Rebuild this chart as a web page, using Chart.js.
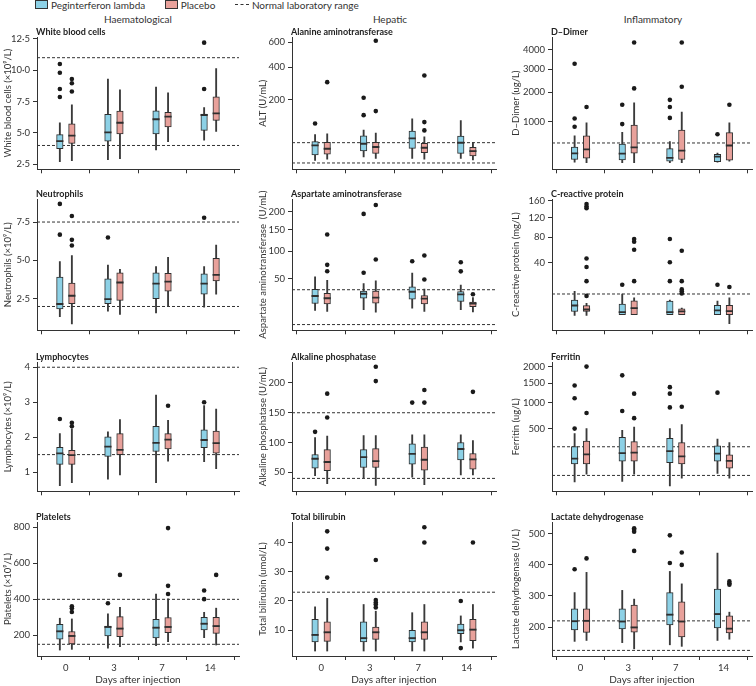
<!DOCTYPE html>
<html>
<head>
<meta charset="utf-8">
<script src="https://cdn.jsdelivr.net/npm/chart.js@4.4.1/dist/chart.umd.min.js"></script>
<style>
body { margin: 0; width: 756px; height: 686px; position: relative; background: #fff; font-family: Lato, sans-serif; color: #222; overflow: hidden; }
canvas { position: absolute; }
.ttl { position: absolute; font-weight: bold; font-size: 9px; line-height: 12px; white-space: nowrap; color: #222; }
.hdr { position: absolute; top: 13px; font-size: 10px; line-height: 12px; transform: translateX(-50%); color: #333; }
.leg { position: absolute; top: 0px; left: 35px; font-size: 10px; line-height: 10px; white-space: nowrap; color: #333; }
.leg span { display: inline-block; vertical-align: top; }
.sw { width: 11px; height: 7px; border: 1px solid #333; margin-right: 3px; }
.dash { width: 14px; border-top: 1.2px dashed #333; margin: 4px 3px 0 0; }
</style>
</head>
<body>
<div class="leg">
  <span class="sw" style="background:#8dd1e6"></span><span>Peginterferon lambda</span>
  <span class="sw" style="background:#e8a19b;margin-left:17px"></span><span>Placebo</span>
  <span class="dash" style="margin-left:17px"></span><span>Normal laboratory range</span>
</div>
<div class="hdr" style="left:138px">Haematological</div>
<div class="hdr" style="left:390px">Hepatic</div>
<div class="hdr" style="left:653px">Inflammatory</div>

<script>
var days = ['0', '3', '7', '14'];

// each row: [min, q1, median, q3, max] for days 0, 3, 7, 14
var wbcPeg = [[2.7, 3.75, 4.3, 4.87, 5.8], [2.87, 4.35, 5.0, 6.48, 9.3], [3.65, 4.92, 6.04, 6.77, 8.65], [4.43, 5.21, 6.38, 6.51, 7.03]];
var wbcPla = [[2.79, 4.17, 4.74, 5.73, 7.25], [2.95, 4.92, 5.76, 6.74, 8.44], [4.3, 5.47, 6.25, 6.64, 8.2], [5.13, 6.0, 6.51, 7.87, 10.13]];
var wbcPegOut = [[10.5, 9.8, 8.5, 7.87], [], [], [12.2, 8.5]];
var wbcPlaOut = [[9.3, 8.96, 8.3], [], [], []];
var wbcRange = [4, 11];
var wbcTicks = [2.5, 5, 7.5, 10, 12.5];

var neuPeg = [[1.33, 1.84, 2.12, 3.91, 4.92], [1.69, 2.18, 2.44, 3.8, 4.7], [1.58, 2.51, 3.45, 4.2, 4.6], [1.95, 2.81, 3.45, 4.12, 4.6]];
var neuPla = [[0.87, 2.18, 2.66, 3.52, 5.31], [1.48, 2.4, 3.52, 4.2, 4.42], [2.02, 3.0, 3.58, 4.16, 5.2], [2.81, 3.67, 4.02, 5.13, 6.0]];
var neuPegOut = [[8.68, 6.68], [6.49], [], [7.78]];
var neuPlaOut = [[7.89, 6.34, 5.97], [], [], []];
var neuRange = [2, 7.5];
var neuTicks = [2.5, 5, 7.5];

var lymPeg = [[0.61, 1.22, 1.52, 1.71, 2.1], [0.8, 1.45, 1.71, 2.01, 2.15], [0.7, 1.59, 1.82, 2.31, 3.2], [1.3, 1.7, 1.9, 2.21, 2.9]];
var lymPla = [[0.7, 1.22, 1.47, 1.62, 2.24], [0.92, 1.5, 1.62, 2.1, 2.5], [1.31, 1.66, 1.91, 2.1, 2.48], [1.1, 1.54, 1.81, 2.17, 2.8]];
var lymPegOut = [[2.52], [], [], [3.0]];
var lymPlaOut = [[2.41, 2.31], [], [2.9], []];
var lymRange = [1.5, 4];
var lymTicks = [1, 2, 3, 4];

var pltPeg = [[118, 178, 219, 261, 295], [128, 196, 243, 252, 319], [143, 185, 239, 289, 429], [187, 230, 261, 300, 328]];
var pltPla = [[122, 152, 193, 221, 291], [137, 193, 234, 304, 356], [165, 215, 243, 299, 403], [146, 211, 248, 300, 351]];
var pltPegOut = [[], [378], [], [449, 401]];
var pltPlaOut = [[362, 350, 330], [536], [796, 475, 430], [536]];
var pltRange = [150, 400];
var pltTicks = [200, 400, 600, 800];

var altPeg = [[9.8, 16.8, 32.7, 42.3, 61], [13.9, 23.2, 36.2, 57.5, 74], [12.2, 28, 48.8, 71, 113.6], [12.2, 19.3, 38.5, 56.6, 107]];
var altPla = [[11, 17.8, 26.2, 40.7, 63], [12.2, 19.3, 29.4, 40.7, 65], [11, 20.4, 28, 38.5, 54.8], [10.2, 15.3, 22, 30, 40.7]];
var altPegOut = [[96], [209, 128], [], []];
var altPlaOut = [[299], [615, 145], [342, 101, 73], []];
var altRange = [7, 40];
var altTicks = [200, 400, 600];

var astPeg = [[14, 19.9, 26.9, 35.4, 52.8], [14.5, 25.2, 29.5, 33.4, 43.2], [15.8, 24.1, 31.8, 38.8, 59], [14.5, 21.8, 28.8, 32.6, 41]];
var astPla = [[13.2, 19.6, 24.5, 30.6, 47.9], [12.5, 20.2, 25.2, 33.4, 46.9], [13.2, 19.6, 24.1, 28, 35.8], [12.7, 17, 19.3, 21.2, 26]];
var astPegOut = [[], [194, 59.5], [79.7], [77.9, 61.7]];
var astPlaOut = [[138, 73, 62], [221, 83], [91, 49], [29.5]];
var astRange = [5, 35];
var astTicks = [50, 100, 150, 200];

var alpPeg = [[44.6, 57.1, 71.9, 80, 108.4], [40.8, 58.2, 74.6, 88.2, 111.7], [41.9, 63.7, 80, 98, 112.8], [45.7, 70.8, 88.2, 100.2, 112.8]];
var alpPla = [[31, 52.8, 66.4, 88.2, 111], [28.2, 58.2, 68, 89.8, 111.7], [29.3, 53.9, 70.2, 92.6, 112.8], [45.7, 55.5, 70.8, 81.7, 103.5]];
var alpPegOut = [[118], [], [167], []];
var alpPlaOut = [[182, 142], [227, 203], [188, 167], [185]];
var alpRange = [40, 150];
var alpTicks = [50, 100, 150, 200];

var bilPeg = [[2.9, 6, 8.2, 13.7, 18], [2.9, 6, 7.1, 12.9, 18.8], [2.9, 6, 7.1, 10, 16], [6, 8.8, 9.8, 12.1, 14.9]];
var bilPla = [[2.9, 6.2, 9.1, 12.9, 20.9], [2.9, 6.9, 9.1, 11.1, 16.5], [2.9, 6.9, 9.1, 12.9, 18.8], [3.9, 6.4, 10, 13.7, 18.8]];
var bilPegOut = [[], [], [], [20, 3.9]];
var bilPlaOut = [[43.8, 37.9, 28], [34, 20.3, 19.5, 18.8, 17.8], [45.2, 40], [40]];
var bilRange = [23];
var bilTicks = [10, 20, 30, 40];

var ddPeg = [[195, 228, 308, 423, 648], [187, 224, 303, 478, 732], [187, 207, 241, 394, 530], [195, 199, 260, 303, 323]];
var ddPla = [[187, 246, 372, 648, 975], [187, 318, 406, 913, 1600], [187, 228, 350, 787, 1294], [207, 220, 441, 724, 975]];
var ddPegOut = [[3263, 1095, 870], [1532, 939], [1705, 1454, 1114], [686]];
var ddPlaOut = [[1454], [4418, 2146], [4418, 2213], [1532]];
var ddRange = [500];
var ddTicks = [1000, 2000, 3000, 4000];

var crpPeg = [[0.97, 1.9, 4.2, 6.5, 11.8], [1.1, 1.1, 1.9, 4.6, 9.9], [1.1, 1.1, 1.9, 6, 6.5], [1.1, 1.1, 2.4, 4.05, 6]];
var crpPla = [[0.97, 1.9, 2.7, 3.9, 4.9], [1.1, 1.1, 3.2, 6.1, 7.7], [1.1, 1.1, 2.1, 2.7, 3.0], [0.02, 1.1, 2.2, 4.05, 7.7]];
var crpPegOut = [[], [16.8], [77, 41, 20], [16.8]];
var crpPlaOut = [[152, 146, 142, 46, 35, 20, 8.8], [77, 72, 59, 20], [57.4, 20, 13.2, 11.8, 10.3], [15]];
var crpRange = [10];
var crpTicks = [40, 80, 120, 160];

var ferPeg = [[10, 93, 138, 252, 424], [11, 112, 189, 368, 474], [3, 102, 209, 354, 500], [39, 112, 183, 260, 345]];
var ferPla = [[35, 93, 177, 320, 500], [35, 112, 193, 311, 526], [20, 93, 158, 299, 565], [20, 66, 120, 167, 299]];
var ferPegOut = [[1435, 1108, 500], [1725, 824], [1391, 1221, 900], [1246]];
var ferPlaOut = [[1998, 784], [1221, 682], [914], []];
var ferRange = [30, 250];
var ferTicks = [500, 1000, 1500, 2000];

var ldhPeg = [[154, 191, 217, 259, 311], [150, 194, 216, 259, 318], [143, 207, 238, 311, 379], [157, 197, 240, 322, 438]];
var ldhPla = [[157, 183, 218, 259, 376], [130, 184, 197, 271, 290], [138, 168, 216, 281, 339], [161, 181, 193, 236, 248]];
var ldhPegOut = [[386], [], [495, 406], []];
var ldhPlaOut = [[421], [518, 513, 507, 445], [440, 400], [347, 341, 336]];
var ldhRange = [125, 220];
var ldhTicks = [200, 300, 400, 500];

var pegColor = '#8dd1e6';
var plaColor = '#e8a19b';
var ink = '#2e2e2e';

// column / row geometry of the plot areas
var cols = [
  {left: 0, lw: 37, plot: 203, rp: 3},
  {left: 255, lw: 37, plot: 205, rp: 3},
  {left: 508, lw: 44, plot: 203, rp: 1}
];
var rows = [
  {top: 37, bottom: 172},
  {top: 199, bottom: 333},
  {top: 362, bottom: 494},
  {top: 522, bottom: 656}
];

var panels = [
  {row: 0, col: 0, title: 'White blood cells', ytitle: 'White blood cells (×10⁹/L)', peg: wbcPeg, pla: wbcPla, pegOut: wbcPegOut, plaOut: wbcPlaOut, range: wbcRange, ticks: wbcTicks, min: 2.1, max: 12.65, dec: true},
  {row: 1, col: 0, title: 'Neutrophils', ytitle: 'Neutrophils (×10⁹/L)', peg: neuPeg, pla: neuPla, pegOut: neuPegOut, plaOut: neuPlaOut, range: neuRange, ticks: neuTicks, min: 0.45, max: 9.0, dec: true},
  {row: 2, col: 0, title: 'Lymphocytes', ytitle: 'Lymphocytes (×10⁹/L)', peg: lymPeg, pla: lymPla, pegOut: lymPegOut, plaOut: lymPlaOut, range: lymRange, ticks: lymTicks, min: 0.45, max: 4.15},
  {row: 3, col: 0, title: 'Platelets', ytitle: 'Platelets (×10⁹/L)', peg: pltPeg, pla: pltPla, pegOut: pltPegOut, plaOut: pltPlaOut, range: pltRange, ticks: pltTicks, min: 85, max: 830},
  {row: 0, col: 1, title: 'Alanine aminotransferase', ytitle: 'ALT (U/mL)', peg: altPeg, pla: altPla, pegOut: altPegOut, plaOut: altPlaOut, range: altRange, ticks: altTicks, min: 1.5, max: 25.47, sqrt: true},
  {row: 1, col: 1, title: 'Aspartate aminotransferase', ytitle: 'Aspartate aminotransferase  (U/mL)', peg: astPeg, pla: astPla, pegOut: astPegOut, plaOut: astPlaOut, range: astRange, ticks: astTicks, min: 1.63, max: 15.5, sqrt: true},
  {row: 2, col: 1, title: 'Alkaline phosphatase', ytitle: 'Alkaline phosphatase (U/mL)', peg: alpPeg, pla: alpPla, pegOut: alpPegOut, plaOut: alpPlaOut, range: alpRange, ticks: alpTicks, min: 18.4, max: 235},
  {row: 3, col: 1, title: 'Total bilirubin', ytitle: 'Total bilirubin (umol/L)', peg: bilPeg, pla: bilPla, pegOut: bilPegOut, plaOut: bilPlaOut, range: bilRange, ticks: bilTicks, min: 1.2, max: 47},
  {row: 0, col: 2, title: 'D–Dimer', ytitle: 'D–Dimer (ug/L)', peg: ddPeg, pla: ddPla, pegOut: ddPegOut, plaOut: ddPlaOut, range: ddRange, ticks: ddTicks, min: 10.8, max: 68.9, sqrt: true},
  {row: 1, col: 2, title: 'C-reactive protein', ytitle: 'C-reactive protein (mg/L)', peg: crpPeg, pla: crpPla, pegOut: crpPegOut, plaOut: crpPlaOut, range: crpRange, ticks: crpTicks, min: -0.54, max: 12.85, sqrt: true},
  {row: 2, col: 2, title: 'Ferritin', ytitle: 'Ferritin (ug/L)', peg: ferPeg, pla: ferPla, pegOut: ferPegOut, plaOut: ferPlaOut, range: ferRange, ticks: ferTicks, min: -0.24, max: 46.35, sqrt: true},
  {row: 3, col: 2, title: 'Lactate dehydrogenase', ytitle: 'Lactate dehydrogenase (U/L)', peg: ldhPeg, pla: ldhPla, pegOut: ldhPegOut, plaOut: ldhPlaOut, range: ldhRange, ticks: ldhTicks, min: 107, max: 538}
];

function boxSeries(stats, out, dx, fill, f) {
  var whisk = [], box = [], med = [], pts = [];
  stats.forEach(function(s, i) {
    whisk.push({x: i + dx, y: [f(s[0]), f(s[4])]});
    box.push({x: i + dx, y: [f(s[1]), f(s[3])]});
    med.push({x: i + dx, y: [f(s[2]), f(s[2])]});
    out[i].forEach(function(v) { pts.push({x: i + dx, y: f(v)}); });
  });
  return [
    {type: 'scatter', data: pts, pointRadius: 2.3, pointBackgroundColor: '#1a1a1a', pointBorderWidth: 0, order: 0},
    {type: 'bar', data: med, backgroundColor: ink, barThickness: 6.5, minBarLength: 1.2, grouped: false, order: 1},
    {type: 'bar', data: box, backgroundColor: fill, borderColor: ink, borderWidth: 1, borderSkipped: false, barThickness: 6.5, grouped: false, order: 2},
    {type: 'bar', data: whisk, backgroundColor: '#3a3a3a', barThickness: 1.2, grouped: false, order: 3}
  ];
}

var tickFont = {family: 'Lato', size: 9.5};

panels.forEach(function(p) {
  var c = cols[p.col], r = rows[p.row];
  var last = p.row === 3;
  var bottomH = last ? 30 : 6;
  var w = c.lw + c.plot + c.rp;
  var h = 12 + (r.bottom - r.top) + bottomH;
  var f = p.sqrt ? Math.sqrt : function(v) { return v; };

  var cv = document.createElement('canvas');
  cv.width = w; cv.height = h;
  cv.style.left = c.left + 'px';
  cv.style.top = (r.top - 12) + 'px';
  cv.style.width = w + 'px'; cv.style.height = h + 'px';
  document.body.appendChild(cv);

  var t = document.createElement('div');
  t.className = 'ttl';
  t.textContent = p.title;
  t.style.left = (c.left + c.lw - 1) + 'px';
  t.style.top = (r.top - 11) + 'px';
  document.body.appendChild(t);

  var datasets = []
    .concat(boxSeries(p.peg, p.pegOut, -0.125, pegColor, f))
    .concat(boxSeries(p.pla, p.plaOut, 0.125, plaColor, f));
  p.range.forEach(function(v) {
    datasets.push({type: 'line', data: [{x: -0.6, y: f(v)}, {x: 3.6, y: f(v)}], borderColor: '#333', borderWidth: 1, borderDash: [3, 2], pointRadius: 0, order: 4});
  });

  new Chart(cv, {
    type: 'bar',
    data: {datasets: datasets},
    options: {
      responsive: false,
      animation: false,
      layout: {padding: {top: 12, right: c.rp, left: 0, bottom: 0}},
      plugins: {legend: {display: false}, tooltip: {enabled: false}},
      scales: {
        x: {
          type: 'linear', min: -0.6, max: 3.6, offset: false,
          grid: {drawOnChartArea: false, drawTicks: true, tickLength: 4, color: '#333'},
          border: {color: '#333', width: 1},
          ticks: {display: last, font: tickFont, color: '#333', padding: 2, callback: function(v) { return days[v]; }},
          afterBuildTicks: function(s) { s.ticks = [0, 1, 2, 3].map(function(v) { return {value: v}; }); },
          afterFit: function(s) { s.height = bottomH; },
          title: {display: last, text: 'Days after injection', font: {family: 'Lato', size: 10}, color: '#333', padding: {top: 0, bottom: 0}}
        },
        y: {
          type: 'linear', min: p.min, max: p.max, stacked: false,
          grid: {drawOnChartArea: false, drawTicks: true, tickLength: 4, color: '#333'},
          border: {color: '#333', width: 1},
          ticks: {font: tickFont, color: '#333', padding: 3, callback: function(v) {
            var o = p.sqrt ? Math.round(v * v) : v;
            return p.dec ? o.toFixed(1).replace('.', '·') : String(Math.round(o));
          }},
          afterBuildTicks: function(s) { s.ticks = p.ticks.map(function(v) { return {value: f(v)}; }); },
          afterFit: function(s) { s.width = c.lw; },
          title: {display: true, text: p.ytitle, font: {family: 'Lato', size: 9.5}, color: '#333', padding: {top: 2, bottom: 0}}
        }
      }
    }
  });
});
</script>
</body>
</html>
